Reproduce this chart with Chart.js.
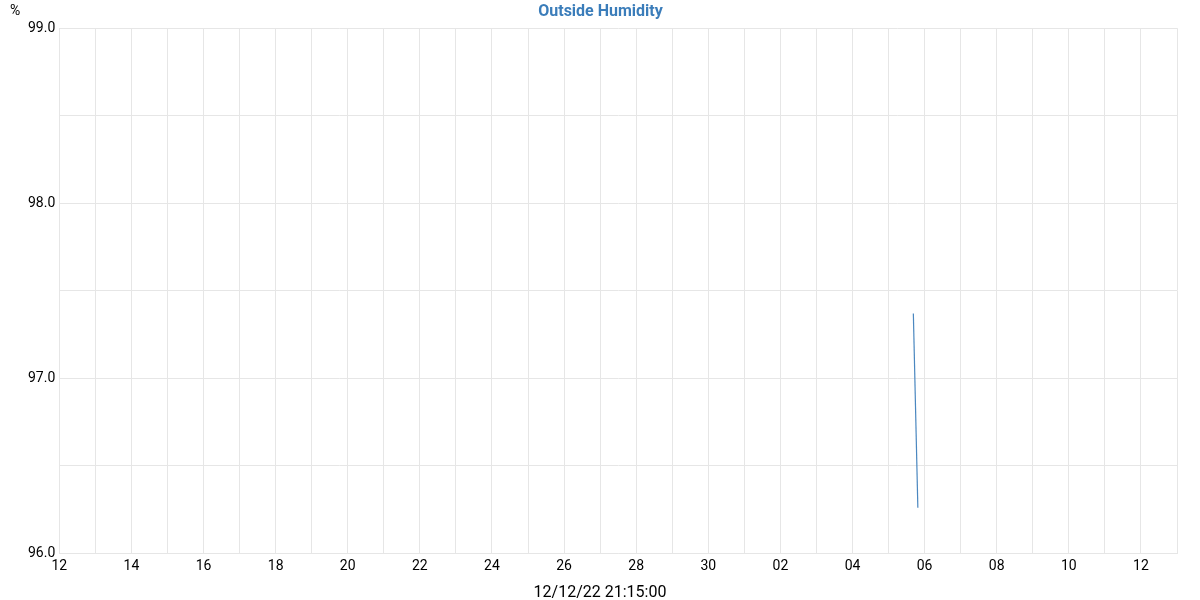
<!DOCTYPE html>
<html><head><meta charset="utf-8">
<script src="https://cdn.jsdelivr.net/npm/chart.js@4"></script>
<style>html,body{margin:0;padding:0;background:#fff}#wrap{width:1200px;height:600px}</style>
</head><body><div id="wrap"><canvas id="c" width="1200" height="600"></canvas></div>
<script>
const times = ["2022-12-05T16:30:00Z", "2022-12-05T19:30:00Z"];
const humidity = [97.37, 96.26];
const xMinTime = "2022-11-12T00:00:00Z";
const xMaxTime = "2022-12-13T00:00:00Z";
const yMin = 96.0, yMax = 99.0;
const chartTitle = "Outside Humidity";
const xTitle = "12/12/22 21:15:00";
const yUnit = "%";

const DAY = 86400000;
const pts = times.map((t, i) => ({x: Date.parse(t), y: humidity[i]}));
const x0 = Date.parse(xMinTime), x1 = Date.parse(xMaxTime);

const textPlugin = {
  id: 'extraText',
  afterDraw(chart) {
    const ctx = chart.ctx;
    ctx.save();
    ctx.fillStyle = '#000';
    ctx.textBaseline = 'middle';
    ctx.font = '14px Roboto';
    ctx.textAlign = 'left';
    ctx.fillText(yUnit, 10, 11);
    ctx.font = '16px Roboto';
    ctx.textAlign = 'center';
    ctx.fillText(xTitle, chart.width / 2, 593);
    ctx.restore();
  }
};

new Chart(document.getElementById('c'), {
  type: 'line',
  data: { datasets: [{ data: pts, borderColor: '#4a87c0', borderWidth: 1.2, pointRadius: 0, fill: false, tension: 0 }] },
  options: {
    responsive: false, animation: false,
    layout: { padding: { left: 24, right: 23, top: 0, bottom: 20 } },
    plugins: {
      legend: { display: false }, tooltip: { enabled: false },
      title: { display: true, text: chartTitle, color: '#3b7dba', font: { family: 'Roboto', size: 16, weight: 'bold' }, padding: { top: 2, bottom: 7 } }
    },
    scales: {
      x: {
        type: 'linear', min: x0, max: x1,
        ticks: { stepSize: DAY, autoSkip: false, maxRotation: 0, color: '#000', font: { family: 'Roboto', size: 14 }, padding: 5,
          callback: (v) => { const d = new Date(v); const off = Math.round((v - x0) / DAY); return off % 2 === 0 ? String(d.getUTCDate()).padStart(2, '0') : ''; } },
        grid: { color: '#e6e6e6', drawTicks: false },
        border: { color: '#e6e6e6' }
      },
      y: {
        min: yMin, max: yMax,
        ticks: { stepSize: 0.5, color: '#000', font: { family: 'Roboto', size: 14 }, padding: 4,
          callback: (v) => Math.abs(v - Math.round(v)) < 1e-9 ? v.toFixed(1) : '' },
        grid: { color: '#e6e6e6', drawTicks: false },
        border: { color: '#e6e6e6' }
      }
    }
  },
  plugins: [textPlugin]
});
</script></body></html>
